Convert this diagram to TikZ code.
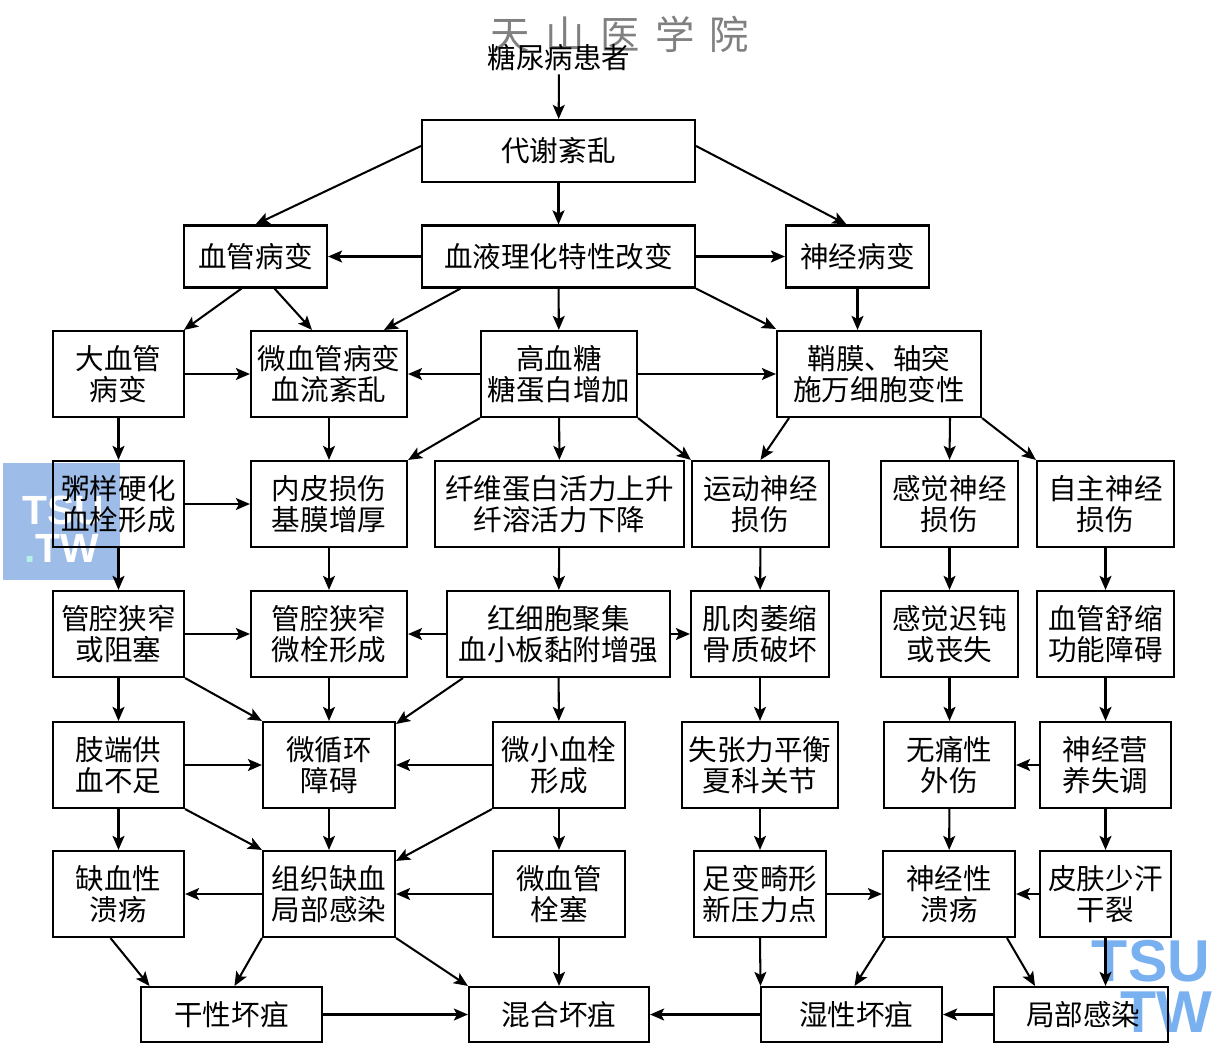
\documentclass[tikz,border=0pt]{standalone}
\usepackage{fontspec}
\setmainfont{Noto Sans CJK SC}
\newfontfamily\markfont{Liberation Sans}
\usepackage{xcolor}
\usetikzlibrary{arrows.meta}
\definecolor{markblue}{HTML}{9DBDE8}
\definecolor{markbright}{HTML}{78B0F0}
\definecolor{markcyan}{HTML}{B5F0E6}
\tikzset{
  box/.style={draw, line width=1.5pt, align=center, inner sep=0pt, font=\fontsize{20.3}{22}\selectfont,
    minimum width=#1*.025cm, minimum height=86*.025cm},
  flat/.style={minimum height=62*.025cm},
  low/.style={minimum height=55*.025cm},
  arr/.style={-{Stealth[length=10pt,width=8.5pt,inset=2.2pt]}, line width=1.45pt},
  bluemark/.style={inner sep=0pt, font=\markfont\bfseries\fontsize{29}{29}\selectfont, text=white},
  brightmark/.style={inner sep=0pt, font=\markfont\bfseries\fontsize{42}{42}\selectfont, text=markbright}
}
\begin{document}
\begin{tikzpicture}[x=.025cm, y=-.025cm]
\useasboundingbox (0,0) rectangle (1228,1044);
\fill[markblue] (3,463) rectangle (120,580);
\node[bluemark] (marka) at (63,510) {TSU};
\node[bluemark] (markb) at (62,548) {\textcolor{markcyan}{.}TW};
\node[brightmark] (markc) at (1151,961) {TSU};
\node[brightmark] (markd) at (1166,1012) {TW};
\node[inner sep=0pt, text=black!50, font=\fontsize{28}{28}\selectfont] (school) at (620,34) {天\hspace{11pt}山\hspace{11pt}医\hspace{11pt}学\hspace{11pt}院};

\node[inner sep=2pt, font=\fontsize{20.3}{22}\selectfont] (patient) at (559,58) {糖尿病患者};
\node[box=273, flat] (daixie) at (558.5,151) {代谢紊乱};
\node[box=143, flat] (xueguan) at (255.5,256.5) {血管病变};
\node[box=273, flat] (xueye) at (558.5,256.5) {血液理化特性改变};
\node[box=143, flat] (shenjing) at (857.5,256.5) {神经病变};

\node[box=131] (daxue) at (118.5,374) {大血管\\病变};
\node[box=156] (weixue) at (329,374) {微血管病变\\血流紊乱};
\node[box=156] (gaoxue) at (559,374) {高血糖\\糖蛋白增加};
\node[box=204] (qiaomo) at (879,374) {鞘膜、轴突\\施万细胞变性};

\node[box=131] (zhouyang) at (118.5,504) {粥样硬化\\血栓形成};
\node[box=156] (neipi) at (329,504) {内皮损伤\\基膜增厚};
\node[box=249] (xianwei) at (559.5,504) {纤维蛋白活力上升\\纤溶活力下降};
\node[box=137] (yundong) at (760.5,504) {运动神经\\损伤};
\node[box=137] (ganjue) at (949.5,504) {感觉神经\\损伤};
\node[box=137] (zizhu) at (1105.5,504) {自主神经\\损伤};

\node[box=131] (zuse) at (118.5,634) {管腔狭窄\\或阻塞};
\node[box=156] (weishuan) at (329,634) {管腔狭窄\\微栓形成};
\node[box=223] (hongxibao) at (558.5,634) {红细胞聚集\\血小板黏附增强};
\node[box=138] (jirou) at (760,634) {肌肉萎缩\\骨质破坏};
\node[box=137] (chidun) at (949.5,634) {感觉迟钝\\或丧失};
\node[box=137] (shusuo) at (1105.5,634) {血管舒缩\\功能障碍};

\node[box=131] (zhiduan) at (118.5,765) {肢端供\\血不足};
\node[box=132] (weixunhuan) at (329,765) {微循环\\障碍};
\node[box=132] (xueshuan) at (559,765) {微小血栓\\形成};
\node[box=156] (shizhang) at (760,765) {失张力平衡\\夏科关节};
\node[box=131] (wutong) at (949.5,765) {无痛性\\外伤};
\node[box=131] (yingyang) at (1105.5,765) {神经营\\养失调};

\node[box=131] (quexue) at (118.5,894) {缺血性\\溃疡};
\node[box=132] (zuzhi) at (329,894) {组织缺血\\局部感染};
\node[box=132] (shuansai) at (559,894) {微血管\\栓塞};
\node[box=132] (zubian) at (760,894) {足变畸形\\新压力点};
\node[box=132] (kuiyang) at (949,894) {神经性\\溃疡};
\node[box=131] (pifu) at (1105.5,894) {皮肤少汗\\干裂};

\node[box=181, low] (ganxing) at (231.5,1014.5) {干性坏疽};
\node[box=180, low] (hunhe) at (559,1014.5) {混合坏疽};
\node[box=181, low] (shixing) at (851.5,1014.5) {\hspace{7pt}湿性坏疽};
\node[box=174, low] (jubu) at (1081,1014.5) {\hspace{3pt}局部感染};

\draw[arr] (patient) -- (daixie);
\draw[arr] ([shift={(0,-5)}]daixie.west) -- ([shift={(0,0)}]xueguan.north);
\draw[arr] (daixie) -- (xueye);
\draw[arr] ([shift={(0,-5)}]daixie.east) -- ([shift={(-11,0)}]shenjing.north);
\draw[arr] (xueye) -- (xueguan);
\draw[arr] (xueye) -- (shenjing);
\draw[arr] (shenjing) -- ([shift={(0,0)}]shenjing |- qiaomo.north);
\draw[arr] (xueye) -- (gaoxue);
\draw[arr] ([shift={(-98,0)}]xueye.south) -- ([shift={(55,0)}]weixue.north);
\draw[arr] (xueye.south east) -- ([shift={(0,-1)}]qiaomo.north west);
\draw[arr] ([shift={(-14,0)}]xueguan.south) -- ([shift={(-145,0)}]weixue.north);
\draw[arr] ([shift={(19,0)}]xueguan.south) -- ([shift={(-17,0)}]weixue.north);

\draw[arr] (daxue) -- (weixue);
\draw[arr] (gaoxue) -- (weixue);
\draw[arr] (gaoxue) -- (qiaomo);
\draw[arr] (daxue) -- (zhouyang);
\draw[arr] (weixue) -- (neipi);
\draw[arr] (gaoxue.south west) -- (neipi.north east);
\draw[arr] (gaoxue) -- (xianwei);
\draw[arr] (gaoxue.south east) -- (yundong.north west);
\draw[arr] ([shift={(-90,0)}]qiaomo.south) -- (yundong.north);
\draw[arr] ([shift={(71,0)}]qiaomo.south) -- (ganjue.north);
\draw[arr] (qiaomo.south east) -- (zizhu.north west);

\draw[arr] (zhouyang) -- (neipi);
\draw[arr] (zhouyang) -- (zuse);
\draw[arr] (neipi) -- (weishuan);
\draw[arr] (xianwei) -- (hongxibao);
\draw[arr] (yundong) -- (jirou);
\draw[arr] (ganjue) -- (chidun);
\draw[arr] (zizhu) -- (shusuo);

\draw[arr] (zuse) -- (weishuan);
\draw[arr] (hongxibao) -- (weishuan);
\draw[arr] (hongxibao) -- (jirou);
\draw[arr] (zuse) -- (zhiduan);
\draw[arr] (zuse.south east) -- (weixunhuan.north west);
\draw[arr] (weishuan) -- (weixunhuan);
\draw[arr] ([shift={(17,0)}]hongxibao.south west) -- ([shift={(0,3)}]weixunhuan.north east);
\draw[arr] (hongxibao) -- (xueshuan);
\draw[arr] (jirou) -- (shizhang);
\draw[arr] (chidun) -- (wutong);
\draw[arr] (shusuo) -- (yingyang);

\draw[arr] (zhiduan) -- (weixunhuan);
\draw[arr] (xueshuan) -- (weixunhuan);
\draw[arr] (yingyang) -- (wutong);
\draw[arr] (zhiduan) -- (quexue);
\draw[arr] (zhiduan.south east) -- (zuzhi.north west);
\draw[arr] (weixunhuan) -- (zuzhi);
\draw[arr] (xueshuan.south west) -- ([shift={(0,11)}]zuzhi.north east);
\draw[arr] (xueshuan) -- (shuansai);
\draw[arr] (shizhang) -- (zubian);
\draw[arr] (wutong) -- (kuiyang);
\draw[arr] (yingyang) -- (pifu);

\draw[arr] (zuzhi) -- (quexue);
\draw[arr] (shuansai) -- (zuzhi);
\draw[arr] (zubian) -- (kuiyang);
\draw[arr] (pifu) -- (kuiyang);
\draw[arr] ([shift={(-8,0)}]quexue.south) -- ([shift={(-82,0)}]ganxing.north);
\draw[arr] (zuzhi.south west) -- ([shift={(3,0)}]ganxing.north);
\draw[arr] (zuzhi.south east) -- (hunhe.north west);
\draw[arr] (shuansai) -- (hunhe);
\draw[arr] (zubian.south) -- ([shift={(-91,0)}]shixing.north);
\draw[arr] ([shift={(-64,0)}]kuiyang.south) -- ([shift={(3,0)}]shixing.north);
\draw[arr] ([shift={(58,0)}]kuiyang.south) -- ([shift={(-46,0)}]jubu.north);
\draw[arr] (pifu) -- ([shift={(24.5,0)}]jubu.north);
\draw[arr] (ganxing) -- (hunhe);
\draw[arr] (shixing) -- (hunhe);
\draw[arr] (jubu) -- (shixing);
\end{tikzpicture}
\end{document}
